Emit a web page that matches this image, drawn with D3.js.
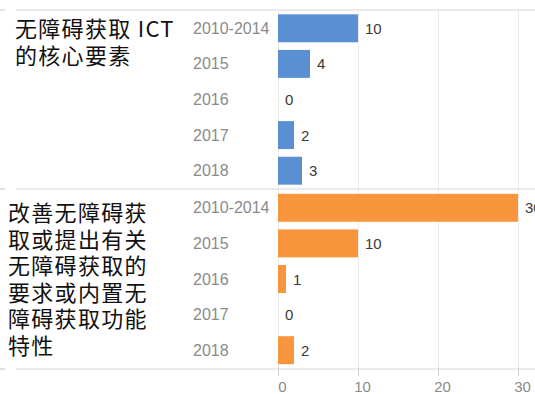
<!DOCTYPE html>
<html>
<head>
<meta charset="utf-8">
<script src="https://cdn.jsdelivr.net/npm/d3@7"></script>
<style>
  html, body { margin: 0; padding: 0; background: #fff; }
  svg { display: block; }
</style>
</head>
<body>
<svg id="chart" width="535" height="394"></svg>
<script>
// Year groups shared by both panels
const years = ["2010-2014", "2015", "2016", "2017", "2018"];
// Counts per year for each topic
const coreValues = [10, 4, 0, 2, 3];
const improveValues = [30, 10, 1, 0, 2];
const xTicks = [0, 10, 20, 30];
// Topic headings, one entry per drawn line
const coreTitle = ["无障碍获取 ICT", "的核心要素"];
const improveTitle = ["改善无障碍获", "取或提出有关", "无障碍获取的", "要求或内置无", "障碍获取功能", "特性"];

const svg = d3.select("#chart");
const W = 535;
const top1 = 10, mid = 189, bottom = 369;

const x = d3.scaleLinear().domain([0, 30]).range([278, 518]);

// Vertical gridlines
svg.append("g")
  .attr("transform", `translate(0,${bottom})`)
  .call(d3.axisBottom(x).tickValues(xTicks).tickSize(-(bottom - top1)).tickFormat(""))
  .call(g => g.select(".domain").remove())
  .call(g => g.selectAll("line").attr("stroke", "#ebebeb").attr("stroke-width", 1));

// Horizontal separators between panels
[top1, mid, bottom].forEach(yy => {
  svg.append("line").attr("x1", 0).attr("x2", 5).attr("y1", yy).attr("y2", yy)
    .attr("stroke", "#d6d6d6").attr("stroke-width", 1.5);
  svg.append("line").attr("x1", 16).attr("x2", W).attr("y1", yy).attr("y2", yy)
    .attr("stroke", "#e4e4e4").attr("stroke-width", 1.5);
});

const panels = [
  { values: coreValues, color: "#5b8fd3", range: [top1 + 0.5, mid - 0.5], title: coreTitle, tx: 15, ty: 37 },
  { values: improveValues, color: "#f8953d", range: [mid + 1, bottom - 1], title: improveTitle, tx: 8, ty: 221 }
];

panels.forEach(p => {
  const y = d3.scaleBand().domain(years).range(p.range).paddingInner(0.215).paddingOuter(0.1075);
  const g = svg.append("g");

  // Bars
  g.selectAll("rect").data(years).join("rect")
    .attr("x", x(0))
    .attr("y", d => y(d))
    .attr("width", (d, i) => x(p.values[i]) - x(0))
    .attr("height", y.bandwidth())
    .attr("fill", p.color);

  // Value labels
  g.selectAll("text.val").data(years).join("text")
    .attr("class", "val")
    .attr("x", (d, i) => x(p.values[i]) + 7)
    .attr("y", d => y(d) + y.bandwidth() / 2)
    .attr("dominant-baseline", "central")
    .attr("font-family", "Liberation Sans, Arial, sans-serif")
    .attr("font-size", 15)
    .attr("fill", "#3a3a3a")
    .text((d, i) => p.values[i]);

  // Year labels
  g.selectAll("text.yr").data(years).join("text")
    .attr("class", "yr")
    .attr("x", 193)
    .attr("y", d => y(d) + y.bandwidth() / 2)
    .attr("dominant-baseline", "central")
    .attr("font-family", "Liberation Sans, Arial, sans-serif")
    .attr("font-size", 16)
    .attr("fill", "#8a8a8a")
    .text(d => d);

  // Topic heading
  const t = g.append("text")
    .attr("font-family", "Noto Sans CJK SC, sans-serif")
    .attr("font-size", 22)
    .attr("letter-spacing", 1.3)
    .attr("fill", "#111");
  p.title.forEach((line, i) => {
    t.append("tspan").attr("x", p.tx).attr("y", p.ty + i * 26.5).text(line);
  });
});

// Bottom value axis
svg.append("g")
  .attr("transform", `translate(0,${bottom})`)
  .call(d3.axisBottom(x).tickValues(xTicks).tickSizeInner(7).tickSizeOuter(0).tickPadding(5))
  .call(g => g.select(".domain").remove())
  .call(g => g.selectAll("line").attr("stroke", "#cfcfcf").attr("y1", -2))
  .call(g => g.selectAll("text")
    .attr("dx", 4)
    .attr("font-family", "Liberation Sans, Arial, sans-serif")
    .attr("font-size", 15)
    .attr("fill", "#8a8a8a"));
</script>
</body>
</html>
